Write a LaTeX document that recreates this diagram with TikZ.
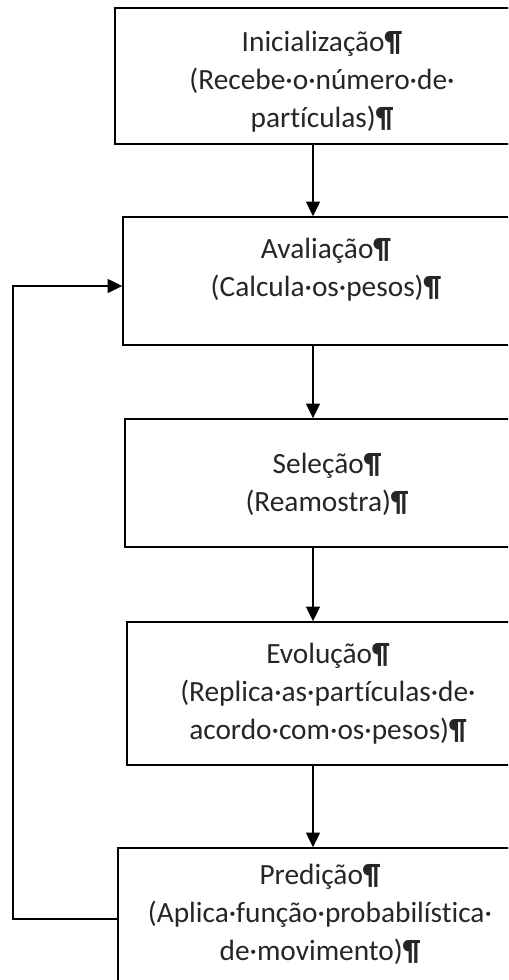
\documentclass[tikz,border=0pt]{standalone}
\usepackage{fontspec}
\setmainfont{Carlito}[Ligatures={NoCommon}]
\usetikzlibrary{arrows.meta,fit}
\begin{document}
\begin{tikzpicture}[x=0.75pt,y=-0.75pt,
  stage/.style={draw=black, line width=1.2pt, rectangle, inner sep=0pt},
  caption/.style={align=center, font=\fontsize{22}{28.5}\selectfont, text=black!85, inner sep=0pt},
  flow/.style={draw=black, line width=1.2pt, -{Triangle[length=11pt,width=10.5pt]}}]
\useasboundingbox (0,0) rectangle (508,980);
\clip (0,0) rectangle (508,980);
\fill[white] (0,0) rectangle (508,980);

% stage boxes (their right sides run past the page edge)
\node[stage, fit={(115,8) (530,144)}]   (init) {};
\node[stage, fit={(123,217) (530,345)}] (eval) {};
\node[stage, fit={(125,419) (530,547)}] (sel)  {};
\node[stage, fit={(127,622) (530,765)}] (evo)  {};
\node[stage, fit={(118,848) (530,1010)}] (pred) {};

% box texts
\newcommand{\pmark}{\textbf{¶}}
\node[caption] (tinit) at (322,82)  {Inicialização\pmark\\(Recebe·o·número·de·\\partículas)\pmark};
\node[caption] (teval) at (326,270) {Avaliação\pmark\\(Calcula·os·pesos)\pmark};
\node[caption] (tsel)  at (327,484) {Seleção\pmark\\(Reamostra)\pmark};
\node[caption] (tevo)  at (328,694) {Evolução\pmark\\(Replica·as·partículas·de·\\acordo·com·os·pesos)\pmark};
\node[caption] (tpred) at (320,914) {Predição\pmark\\(Aplica·função·probabilística·\\de·movimento)\pmark};

% vertical flow
\coordinate (ax) at (313,0);
\draw[flow] (init.south -| ax) -- (eval.north -| ax);
\draw[flow] (eval.south -| ax) -- (sel.north -| ax);
\draw[flow] (sel.south -| ax)  -- (evo.north -| ax);
\draw[flow] (evo.south -| ax)  -- (pred.north -| ax);

% feedback loop from prediction back to evaluation
\coordinate (loopLow) at (13,919);
\coordinate (loopHigh) at (13,286);
\draw[flow] (pred.west |- loopLow) -- (loopLow) -- (loopHigh) -- (eval.west |- loopHigh);
\end{tikzpicture}
\end{document}
